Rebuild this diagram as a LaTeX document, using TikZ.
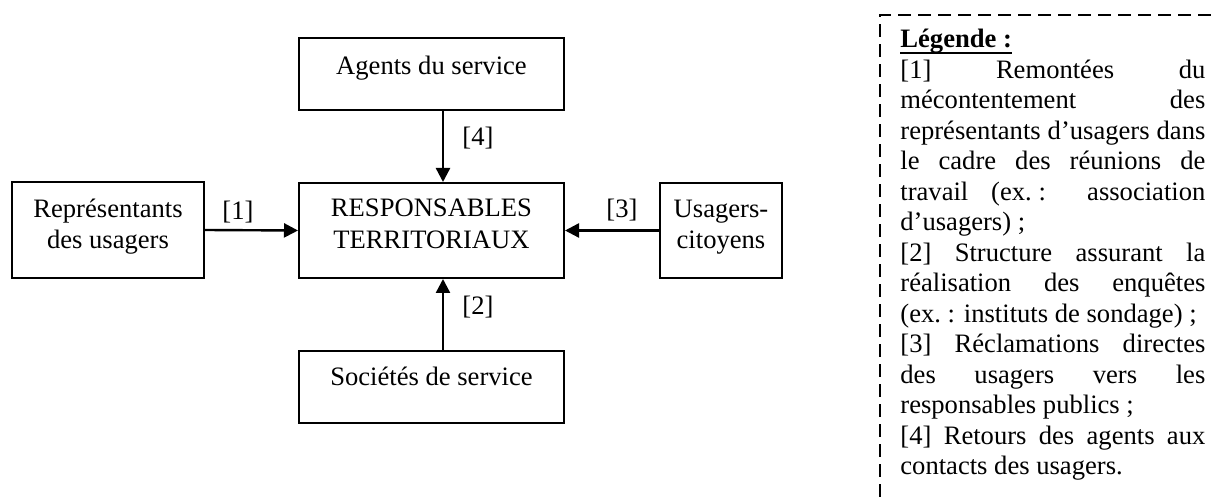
\documentclass[tikz,border=0pt]{standalone}
\usepackage{fontspec}
\setmainfont{Liberation Serif}
\usetikzlibrary{arrows.meta}
\newcommand{\jl}[1]{\makebox[152.5pt][s]{#1}}
\newcommand{\fs}{\kern0.25em}
\begin{document}
\begin{tikzpicture}[x=0.5pt,y=-0.5pt,
  box/.style={draw,line width=1pt,rectangle,inner sep=0pt,minimum width=132.5pt},
  txt/.style={inner sep=0pt,anchor=base,font=\fontsize{13.3}{16}\selectfont},
  lab/.style={inner sep=0pt,font=\fontsize{13.3}{16}\selectfont},
  leg/.style={inner sep=0pt,anchor=base west,font=\fontsize{13.3}{15}\selectfont},
  arr/.style={line width=1.2pt,-{Triangle[length=7pt,width=7pt]}}]
\useasboundingbox (0,0) rectangle (1217,497);
% boxes
\node[box,minimum height=36pt] (agents) at (431.5,74) {};
\node[box,minimum height=47.5pt] (resp) at (431.5,230.5) {};
\node[box,minimum height=36pt] (soc) at (431.5,387) {};
\node[box,minimum width=96pt,minimum height=48pt] (rep) at (108,230) {};
\node[box,minimum width=61pt,minimum height=47.5pt] (usag) at (721,230.5) {};
% box texts
\node[txt] (agentsT) at (431.5,75) {Agents du service};
\node[txt] (respT1) at (431.5,217) {RESPONSABLES};
\node[txt] (respT2) at (431.5,249) {TERRITORIAUX};
\node[txt] (socT) at (431.5,386) {Sociétés de service};
\node[txt] (repT1) at (108,218) {Représentants};
\node[txt] (repT2) at (108,249) {des usagers};
\node[txt] (usagT1) at (721,218) {Usagers-};
\node[txt] (usagT2) at (721,249) {citoyens};
% connectors
\coordinate (vx) at (443,0);
\draw[arr] (rep.east) -- (resp.west);
\draw[arr] (usag.west) -- (resp.east);
\draw[arr] (agents.south -| vx) -- (resp.north -| vx);
\draw[arr] (soc.north -| vx) -- (resp.south -| vx);
% labels
\node[lab] (l1) at (238,212) {[1]};
\node[lab] (l3) at (622,210) {[3]};
\node[lab] (l4) at (478,138) {[4]};
\node[lab] (l2) at (478,307) {[2]};
% legend frame
\draw[line width=1pt,dash pattern=on 6.5pt off 3.5pt] (880,497) -- (880,15) -- (1217,15);
% legend text
\node[leg] (g0) at (900,48) {\textbf{Légende :}};
\draw[line width=0.9pt] ([yshift=-2.4pt]g0.base west) -- ([yshift=-2.4pt]g0.base east);
\node[leg] (g1) at (900,78.5) {\jl{[1] Remontées du}};
\node[leg] (g2) at (900,109) {\jl{mécontentement des}};
\node[leg] (g3) at (900,139.5) {\jl{représentants d’usagers dans}};
\node[leg] (g4) at (900,170) {\jl{le cadre des réunions de}};
\node[leg] (g5) at (900,200.5) {\jl{travail (ex.\fs: association}};
\node[leg] (g6) at (900,231) {d’usagers)\fs;};
\node[leg] (g7) at (900,261.5) {\jl{[2] Structure assurant la}};
\node[leg] (g8) at (900,292) {\jl{réalisation des enquêtes}};
\node[leg] (g9) at (900,322.5) {(ex.\fs: instituts de sondage)\fs;};
\node[leg] (g10) at (900,353) {\jl{[3] Réclamations directes}};
\node[leg] (g11) at (900,383.5) {\jl{des usagers vers les}};
\node[leg] (g12) at (900,414) {responsables publics\fs;};
\node[leg] (g13) at (900,444.5) {\jl{[4] Retours des agents aux}};
\node[leg] (g14) at (900,475) {contacts des usagers.};
\end{tikzpicture}
\end{document}
